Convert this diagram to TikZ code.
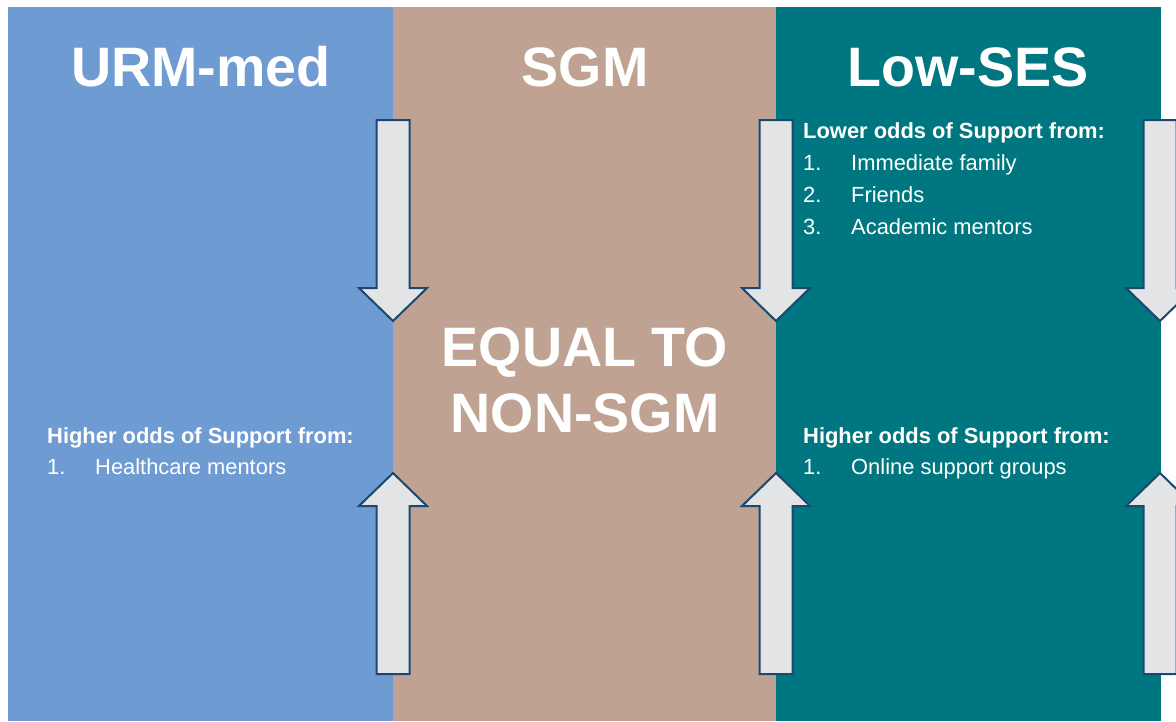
\documentclass[tikz,border=0pt]{standalone}
\usepackage{fontspec}
\setmainfont{Liberation Sans}
\definecolor{urmblue}{RGB}{111,155,211}
\definecolor{sgmtan}{RGB}{191,162,146}
\definecolor{sesteal}{RGB}{0,119,128}
\definecolor{arrowfill}{RGB}{226,228,230}
\definecolor{arrowline}{RGB}{27,72,112}
\tikzset{
  titletext/.style={text=white, font=\fontsize{55.6}{66}\selectfont\bfseries, anchor=base, inner sep=0pt},
  headtext/.style={text=white, font=\fontsize{21.9}{26}\selectfont\bfseries, anchor=base west, inner sep=0pt},
  itemtext/.style={text=white, font=\fontsize{21.9}{26}\selectfont, anchor=base west, inner sep=0pt},
  blockarrow/.style={fill=arrowfill, draw=arrowline, line width=2pt, line join=miter},
  pics/downarrow/.style={code={\draw[blockarrow] (-16.5,0) -- (16.5,0) -- (16.5,168) -- (34,168) -- (0,201) -- (-34,168) -- (-16.5,168) -- cycle;}},
  pics/uparrow/.style={code={\draw[blockarrow] (0,0) -- (34,33) -- (16.5,33) -- (16.5,201) -- (-16.5,201) -- (-16.5,33) -- (-34,33) -- cycle;}},
}
\begin{document}
\begin{tikzpicture}[x=1pt,y=-1pt]
\path[use as bounding box] (0,0) rectangle (1176,721);
\clip (0,0) rectangle (1176,721);
\fill[white] (0,0) rectangle (1176,721);
% columns
\fill[urmblue] (8,7) rectangle (393,721);
\fill[sgmtan] (393,7) rectangle (776,721);
\fill[sesteal] (776,7) rectangle (1161,721);
% titles
\node[titletext] (t1) at (201,86) {URM-med};
\node[titletext] (t2) at (585,86) {SGM};
\node[titletext] (t3) at (968,86) {Low-SES};
% middle text
\node[titletext] (eq1) at (585,366) {EQUAL TO};
\node[titletext] (eq2) at (585,432) {NON-SGM};
% arrows
\pic at (393,120) {downarrow};
\pic at (393,473) {uparrow};
\pic at (776,120) {downarrow};
\pic at (776,473) {uparrow};
\pic at (1160,120) {downarrow};
\pic at (1160,473) {uparrow};
% URM-med list
\node[headtext] (h1) at (47,443) {Higher odds of Support from:};
\node[itemtext] (n1) at (47,474) {1.};
\node[itemtext] (i1) at (95,474) {Healthcare mentors};
% Low-SES lists
\node[headtext] (h2) at (803,138) {Lower odds of Support from:};
\node[itemtext] (n2) at (803,170) {1.};
\node[itemtext] (i2) at (851,170) {Immediate family};
\node[itemtext] (n3) at (803,202) {2.};
\node[itemtext] (i3) at (851,202) {Friends};
\node[itemtext] (n4) at (803,234) {3.};
\node[itemtext] (i4) at (851,234) {Academic mentors};
\node[headtext] (h3) at (803,443) {Higher odds of Support from:};
\node[itemtext] (n5) at (803,474) {1.};
\node[itemtext] (i5) at (851,474) {Online support groups};
\end{tikzpicture}
\end{document}
